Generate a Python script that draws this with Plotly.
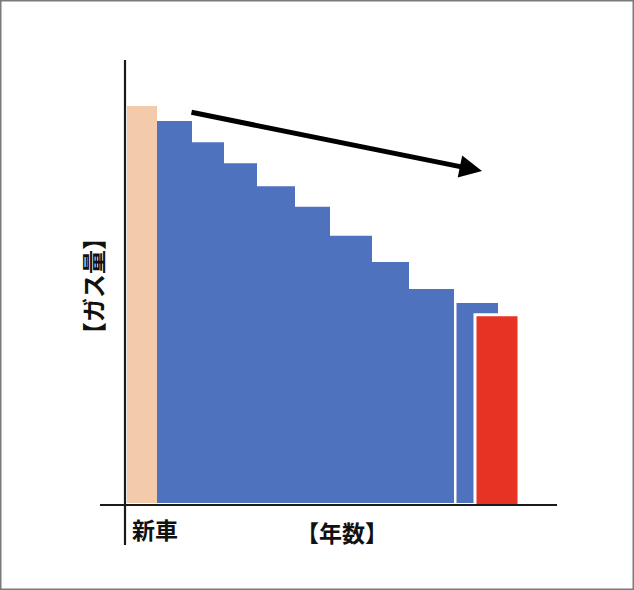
import plotly.graph_objects as go

# ---- data (gas amount, % of new car) ----
new_car_value = [100.0]
year_steps = [96.2, 90.9, 85.6, 79.8, 74.6, 67.3, 60.7, 53.9]
last_year_value = [50.4]
replaced_value = [47.4]

x_label_new = "新車"
x_title = "【年数】"
y_title = "【ガス量】"

# ---- layout geometry (pixels) ----
W, H = 634, 590
BASE_PX = 503          # pixel row of value 0
PX_PER_UNIT = 3.97
def py(p):            # pixel row -> data value
    return (BASE_PX - p) / PX_PER_UNIT

new_edges = [127, 157]
step_edges = [157, 192, 224, 257, 295, 330, 372, 409, 454]
last_edges = [456.5, 498]
red_edges = [475, 519]

BLUE = "#4E72BE"
PEACH = "#F3CBAA"
RED = "#E63324"
FONT = "Noto Sans CJK JP"

fig = go.Figure()

fig.add_trace(go.Bar(
    x=[(new_edges[0] + new_edges[1]) / 2], y=new_car_value,
    width=[new_edges[1] - new_edges[0]],
    marker=dict(color=PEACH, line=dict(width=0)), showlegend=False, hoverinfo="skip"))

# stepped blue area
sx = list(step_edges)
sy = list(year_steps) + [year_steps[-1]]
fig.add_trace(go.Scatter(
    x=sx, y=sy, mode="lines", line=dict(shape="hv", width=0, color=BLUE),
    fill="tozeroy", fillcolor=BLUE, showlegend=False, hoverinfo="skip"))

fig.add_trace(go.Bar(
    x=[(last_edges[0] + last_edges[1]) / 2], y=last_year_value,
    width=[last_edges[1] - last_edges[0]],
    marker=dict(color=BLUE, line=dict(width=0)), showlegend=False, hoverinfo="skip"))

red_base = py(506.5)
fig.add_trace(go.Bar(
    x=[(red_edges[0] + red_edges[1]) / 2], y=[v - red_base for v in replaced_value],
    base=[red_base], width=[red_edges[1] - red_edges[0]],
    marker=dict(color=RED, line=dict(width=3, color="white")), showlegend=False, hoverinfo="skip"))

# axis lines
fig.add_shape(type="line", x0=125, x1=125, y0=py(60), y1=py(545),
              line=dict(color="#1a1a1a", width=2.2), layer="above")
fig.add_shape(type="line", x0=100, x1=557, y0=py(505), y1=py(505),
              line=dict(color="#1a1a1a", width=2.2), layer="above")

# frame
fig.add_shape(type="rect", xref="paper", yref="paper", x0=0, x1=1, y0=0, y1=1,
              line=dict(color="#7a7a7a", width=3))

# arrow
fig.add_annotation(x=482, y=py(171), ax=190, ay=py(112), xref="x", yref="y",
                   axref="x", ayref="y", showarrow=True, arrowhead=2,
                   arrowsize=0.9, arrowwidth=5, arrowcolor="black", text="")

# texts
fig.add_annotation(x=155, y=py(529), xref="x", yref="y", text="<b>" + x_label_new + "</b>",
                   showarrow=False, font=dict(family=FONT, size=23, color="#111"))
fig.add_annotation(x=342, y=py(532), xref="x", yref="y", text="<b>" + x_title + "</b>",
                   showarrow=False, font=dict(family=FONT, size=23, color="#111"))
fig.add_annotation(x=92, y=py(286), xref="x", yref="y", text="<b>" + y_title + "</b>",
                   textangle=-90, showarrow=False,
                   font=dict(family=FONT, size=24, color="#111"))

fig.update_layout(
    width=W, height=H, margin=dict(l=0, r=0, t=0, b=0),
    paper_bgcolor="white", plot_bgcolor="white", barmode="overlay",
    xaxis=dict(range=[0, W], visible=False, fixedrange=True),
    yaxis=dict(range=[py(H), py(0)], visible=False, fixedrange=True),
    showlegend=False,
)

fig.write_html("out.html", config={"displayModeBar": False},
               post_script="document.body.style.margin='0';document.body.style.overflow='hidden';")
